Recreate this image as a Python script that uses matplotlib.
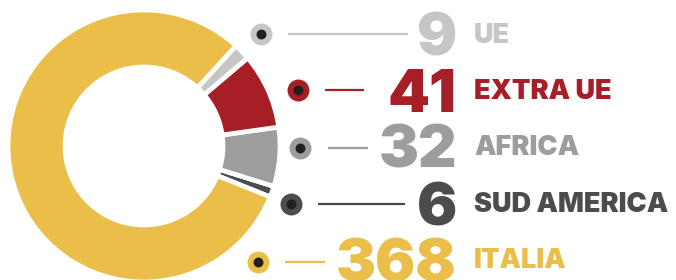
import matplotlib
matplotlib.use("Agg")
import matplotlib.pyplot as plt

# ---- data ----
categories = ["UE", "EXTRA UE", "AFRICA", "SUD AMERICA", "ITALIA"]
values = [9, 41, 32, 6, 368]
colors = ["#C6C6C5", "#A61F26", "#9D9D9C", "#4B4D4D", "#EBBE4A"]

# ---- layout (pixel coords, y from top) ----
W, H = 676, 280
marker_x = [261, 298, 300, 291, 258]
row_y = [34, 90, 148, 204, 262]
line_x0 = [288, 325, 328, 318, 285]
line_x1 = [408, 364, 368, 405, 325]
num_right = 457
num_base = [55, 112, 168, 225, 281]
lab_left = 474
lab_base = [43, 99, 155, 212, 268]

fig = plt.figure(figsize=(W / 100, H / 100), dpi=100)
ax = fig.add_axes([0, 0, 1, 1])
ax.set_axis_off()

def Y(y):
    return H - y

# donut: draw in order counterclockwise from sud america
order = [3, 2, 1, 0, 4]
ax.pie([values[i] for i in order], colors=[colors[i] for i in order],
       startangle=-22, counterclock=True, center=(144, Y(146)), radius=136,
       wedgeprops=dict(width=136 - 79, edgecolor="white", linewidth=3.4))

ax.set_xlim(0, W)
ax.set_ylim(0, H)
ax.set_aspect("equal")

fam = ["Inter", "DejaVu Sans"]
for i, (cat, val, col) in enumerate(zip(categories, values, colors)):
    ax.plot(marker_x[i], Y(row_y[i]), marker="o", ms=11.5, mew=4.3,
            mec=col, mfc="#231F20", zorder=5)
    ax.plot([line_x0[i], line_x1[i]], [Y(row_y[i]), Y(row_y[i])],
            color=col, lw=1.6, solid_capstyle="butt")
    ax.text(num_right, Y(num_base[i]), str(val), color=col, family=fam,
            fontweight="black", fontsize=43, ha="right", va="baseline")
    ax.text(lab_left, Y(lab_base[i]), cat, color=col, family=fam,
            fontweight="black", fontsize=19.5, ha="left", va="baseline")

fig.savefig("out.png", dpi=100)
